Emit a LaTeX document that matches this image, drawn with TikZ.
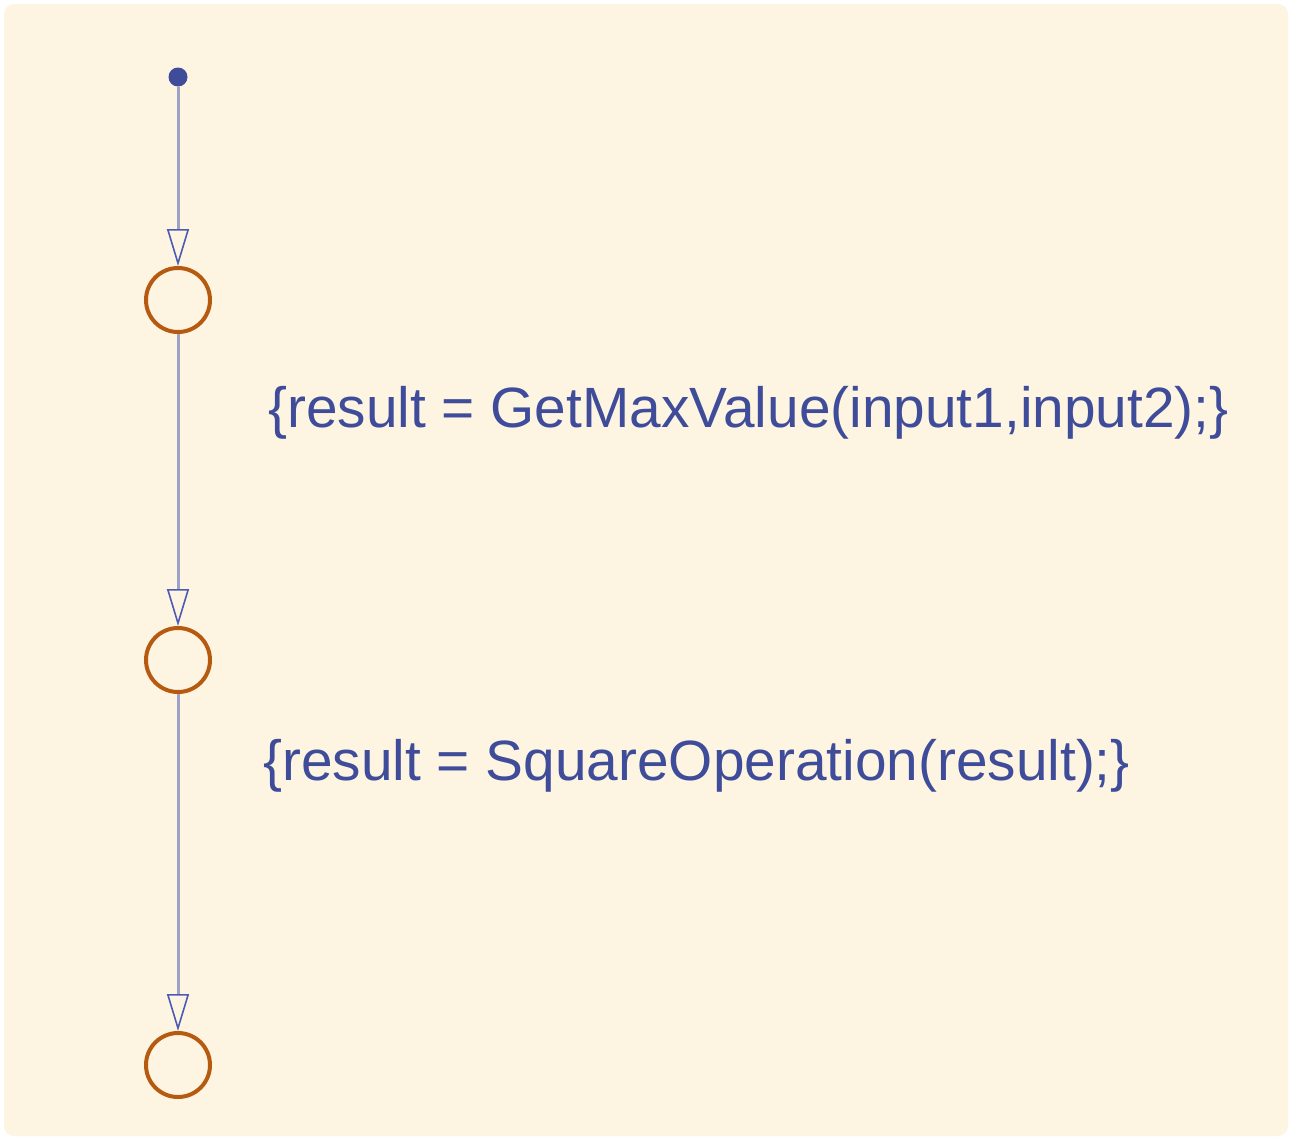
\documentclass[tikz,border=0pt]{standalone}
\usepackage{fontspec}
\setmainfont{Liberation Sans}
\usetikzlibrary{arrows.meta}
\definecolor{bgc}{HTML}{FEF4E2}
\definecolor{linec}{HTML}{9CA1C6}
\definecolor{arrc}{HTML}{4B5BB5}
\definecolor{statec}{HTML}{B65A10}
\definecolor{textc}{HTML}{3E4C9A}
\tikzset{
  statenode/.style={circle, draw=statec, line width=4pt, inner sep=0pt, minimum size=64pt},
  dotnode/.style={circle, fill=textc, inner sep=0pt, minimum size=19pt},
  conn/.style={draw=linec, line width=3pt, -{Triangle[open, length=37pt, width=22pt, color=arrc, line width=1.6pt]}},
  actlabel/.style={anchor=base west, text=textc, inner sep=0pt, font=\fontsize{56.8pt}{60pt}\selectfont}
}
\begin{document}
\begin{tikzpicture}[x=1pt,y=-1pt]
\useasboundingbox (0,0) rectangle (1290,1138);
\fill[white] (0,0) rectangle (1290,1138);
\fill[bgc, rounded corners=10pt] (4,4) rectangle (1288,1136);
\node[dotnode] (dot) at (178,77) {};
\node[statenode] (s1) at (178,300) {};
\node[statenode] (s2) at (178,660) {};
\node[statenode] (s3) at (178,1065) {};
\draw[conn] (dot) -- (s1);
\draw[conn] (s1) -- (s2);
\draw[conn] (s2) -- (s3);
\node[actlabel] (t1) at (268,427) {\{result = GetMaxValue(input1,input2);\}};
\node[actlabel] (t2) at (263,780) {\{result = SquareOperation(result);\}};
\end{tikzpicture}
\end{document}
